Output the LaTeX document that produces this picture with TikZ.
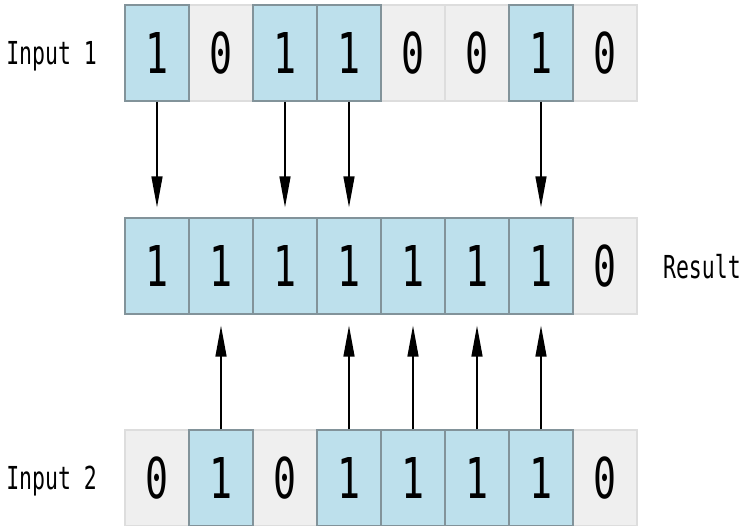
\documentclass[tikz,border=0pt]{standalone}
\usepackage{fontspec}
\usetikzlibrary{arrows.meta,positioning}
\newfontfamily\bitfont[FakeStretch=0.68]{DejaVu Sans Mono}
\definecolor{bitblue}{HTML}{BDE0EC}
\definecolor{bitedge}{HTML}{82939A}
\definecolor{offgray}{HTML}{EFEFEF}
\definecolor{offedge}{HTML}{DDDDDD}
\tikzset{
  cell/.style={draw,rectangle,minimum width=1.28cm,minimum height=1.92cm,inner sep=0pt,line width=0.8pt,font=\bitfont\fontsize{32}{36}\selectfont},
  oncell/.style={cell,fill=bitblue,draw=bitedge},
  offcell/.style={cell,fill=offgray,draw=offedge},
  rowlbl/.style={inner sep=0pt,text depth=0pt,font=\bitfont\fontsize{18}{22}\selectfont},
  arr/.style={-{Triangle[length=0.62cm,width=0.22cm]},line width=0.85pt}
}
\begin{document}
\begin{tikzpicture}
  \useasboundingbox (0,0) rectangle (14.98,-10.52);
  \foreach \i in {1,4,5,7} \node[offcell] (a\i) at (3.14+1.28*\i,-1.06) {0};
  \foreach \i in {0,2,3,6} \node[oncell] (a\i) at (3.14+1.28*\i,-1.06) {1};
  \node[offcell] (r7) at (3.14+1.28*7,-5.32) {0};
  \foreach \i in {0,...,6} \node[oncell] (r\i) at (3.14+1.28*\i,-5.32) {1};
  \foreach \i in {0,2,7} \node[offcell] (b\i) at (3.14+1.28*\i,-9.56) {0};
  \foreach \i in {1,3,4,5,6} \node[oncell] (b\i) at (3.14+1.28*\i,-9.56) {1};

  \node[rowlbl, left=0.54cm of a0] (in1) {Input 1};
  \node[rowlbl, right=0.5cm of r7] (res) {Result};
  \node[rowlbl, left=0.54cm of b0] (in2) {Input 2};

  \foreach \i in {0,2,3,6} \draw[arr,shorten >=0.2cm] (a\i) -- (r\i);
  \foreach \i in {1,3,4,5,6} \draw[arr,shorten >=0.22cm] (b\i) -- (r\i);
\end{tikzpicture}
\end{document}
